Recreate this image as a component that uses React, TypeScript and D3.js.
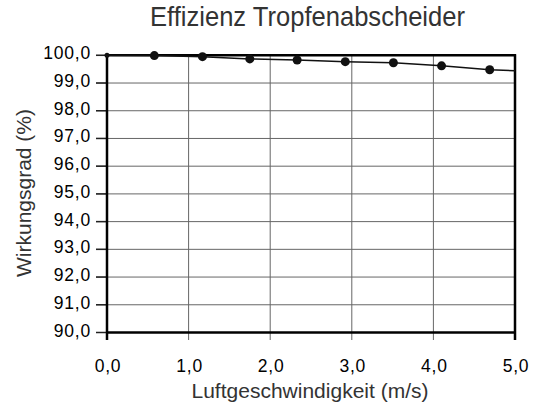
import React from 'react';
import * as d3 from 'd3';

// measured points (Luftgeschwindigkeit m/s, Wirkungsgrad %)
const speed = [0.58, 1.17, 1.75, 2.33, 2.92, 3.51, 4.1, 4.69];
const efficiency = [99.99, 99.95, 99.87, 99.83, 99.77, 99.73, 99.62, 99.48];
// the curve runs from origin point to the right border
const curveStart = { x: 0, y: 100 };
const curveEnd = { x: 5, y: 99.44 };

const xTicks = [0, 1, 2, 3, 4, 5];
const yTicks = [90, 91, 92, 93, 94, 95, 96, 97, 98, 99, 100];

const title = 'Effizienz Tropfenabscheider';
const xTitle = 'Luftgeschwindigkeit (m/s)';
const yTitle = 'Wirkungsgrad (%)';

const W = 538;
const H = 404;
const left = 107, right = 515, top = 55.3, bottom = 332.5;

const fmt = (v: number) => v.toFixed(1).replace('.', ',');

export default function App() {
  const x = d3.scaleLinear().domain([0, 5]).range([left, right]);
  const y = d3.scaleLinear().domain([90, 100]).range([bottom, top]);

  const pts = speed.map((s, i) => ({ x: s, y: efficiency[i] }));
  const curve = [curveStart, ...pts, curveEnd];
  const line = d3.line<{ x: number; y: number }>()
    .x(d => x(d.x))
    .y(d => y(d.y));

  const sans = '"Liberation Sans", Arial, sans-serif';

  return (
    <svg width={W} height={H} style={{ position: 'absolute', left: 0, top: 0, background: '#fff' }}>
      <text x={307.5} y={26} textAnchor="middle" fontFamily={sans} fontSize={28}
        textLength={315} lengthAdjust="spacingAndGlyphs" fill="#333">{title}</text>

      {/* grid */}
      {yTicks.map(t => (
        <line key={'gy' + t} x1={96} x2={right} y1={y(t)} y2={y(t)} stroke="#666" strokeWidth={1} />
      ))}
      {xTicks.map(t => (
        <line key={'gx' + t} x1={x(t)} x2={x(t)} y1={top} y2={340} stroke="#666" strokeWidth={1} />
      ))}
      {yTicks.map(t => (
        <line key={'ty' + t} x1={96} x2={left} y1={y(t)} y2={y(t)} stroke="#222" strokeWidth={1.5} />
      ))}

      {/* frame */}
      <line x1={left} x2={left} y1={top - 1} y2={340} stroke="#000" strokeWidth={2.5} />
      <line x1={right} x2={right} y1={top - 1} y2={340} stroke="#000" strokeWidth={2.5} />
      <line x1={left} x2={right + 1} y1={top} y2={top} stroke="#000" strokeWidth={2.5} />
      <line x1={left - 1} x2={right + 1} y1={bottom} y2={bottom} stroke="#000" strokeWidth={2.5} />

      {/* tick labels */}
      {yTicks.map(t => (
        <text key={'ly' + t} x={91} y={y(t) + 4} textAnchor="end" fontFamily={sans}
          fontSize={17.5} letterSpacing={0.8} fill="#000">{fmt(t)}</text>
      ))}
      {xTicks.map(t => (
        <text key={'lx' + t} x={x(t) + 1} y={372} textAnchor="middle" fontFamily={sans}
          fontSize={17.5} letterSpacing={0.8} fill="#000">{fmt(t)}</text>
      ))}

      {/* axis titles */}
      <text x={310} y={398} textAnchor="middle" fontFamily={sans} fontSize={21}
        textLength={237} lengthAdjust="spacingAndGlyphs" fill="#333">{xTitle}</text>
      <text transform={`translate(31,193) rotate(-90)`} textAnchor="middle" fontFamily={sans}
        fontSize={21} textLength={168} lengthAdjust="spacingAndGlyphs" fill="#333">{yTitle}</text>

      {/* curve and markers */}
      <path d={line(curve) || ''} fill="none" stroke="#111" strokeWidth={1.5} />
      <circle cx={x(curveStart.x)} cy={y(curveStart.y)} r={2.5} fill="#111" />
      {pts.map((p, i) => (
        <circle key={'p' + i} cx={x(p.x)} cy={y(p.y)} r={4.5} fill="#111" />
      ))}
    </svg>
  );
}
